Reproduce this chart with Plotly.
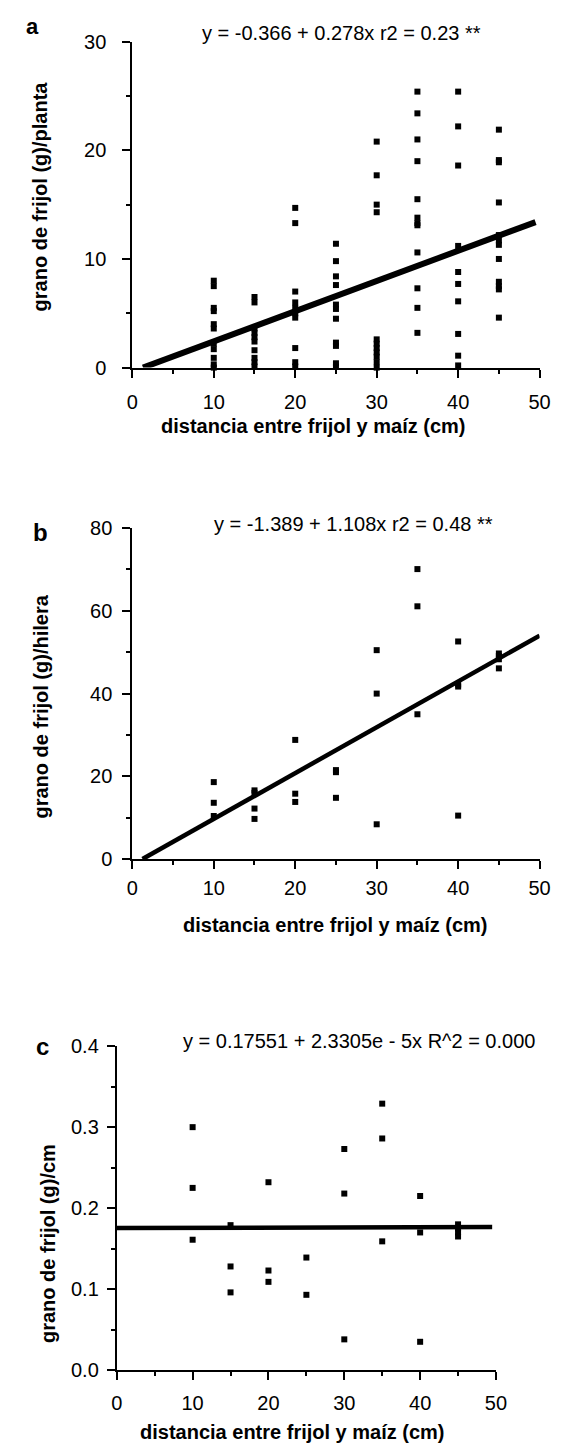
import plotly.graph_objects as go

W, H = 562, 1447

# ---------------- data ----------------
dist_a = [10]*11 + [15]*10 + [20]*10 + [25]*11 + [30]*11 + [35]*12 + [40]*10 + [45]*12
grain_a = [8.0, 7.5, 5.5, 5.2, 4.0, 3.6, 2.2, 1.7, 0.9, 0.3, 0.0,
           6.5, 6.0, 3.6, 3.2, 2.8, 2.4, 1.6, 0.9, 0.5, 0.1,
           14.7, 13.3, 7.0, 6.0, 5.5, 5.0, 4.6, 1.8, 0.5, 0.1,
           11.4, 9.8, 8.4, 7.6, 5.8, 5.4, 4.5, 2.3, 2.0, 0.4, 0.1,
           20.8, 17.7, 15.0, 14.3, 2.6, 2.2, 1.8, 1.4, 1.0, 0.5, 0.0,
           25.4, 23.4, 21.0, 19.0, 15.5, 13.8, 13.3, 13.1, 10.6, 7.3, 5.5, 3.2,
           25.4, 22.2, 18.6, 11.2, 8.8, 7.7, 6.1, 3.1, 1.1, 0.2,
           21.9, 19.1, 18.9, 15.2, 12.2, 11.7, 11.3, 10.0, 7.9, 7.5, 7.2, 4.6]
fit_a = (-0.366, 0.278)

dist_b = [10]*3 + [15]*4 + [20]*3 + [25]*3 + [30]*3 + [35]*3 + [40]*4 + [45]*4
grain_b = [18.6, 13.6, 10.4,
           16.6, 16.0, 12.2, 9.7,
           28.8, 15.8, 13.8,
           21.5, 21.0, 14.8,
           50.5, 40.0, 8.4,
           70.1, 61.1, 35.0,
           52.6, 42.2, 41.7, 10.5,
           49.7, 49.1, 48.3, 46.1]
fit_b = (-1.389, 1.108)

dist_c = [10]*3 + [15]*3 + [20]*3 + [25]*2 + [30]*3 + [35]*3 + [40]*3 + [45]*4
grain_c = [0.300, 0.225, 0.161,
           0.179, 0.128, 0.096,
           0.232, 0.123, 0.109,
           0.139, 0.093,
           0.273, 0.218, 0.038,
           0.329, 0.286, 0.159,
           0.215, 0.170, 0.035,
           0.180, 0.175, 0.170, 0.165]
fit_c = (0.17551, 2.3305e-5)

x_ticks = [0, 10, 20, 30, 40, 50]
y_ticks_a = [0, 10, 20, 30]
y_ticks_b = [0, 20, 40, 60, 80]
y_ticks_c = [0.0, 0.1, 0.2, 0.3, 0.4]
y_ticktext_c = ["0.0", "0.1", "0.2", "0.3", "0.4"]

eq_a = "y = -0.366 + 0.278x r2 = 0.23 **"
eq_b = "y = -1.389 + 1.108x r2 = 0.48 **"
eq_c = "y = 0.17551 + 2.3305e - 5x R^2 = 0.000"
ytitle_a = "grano de frijol (g)/planta"
ytitle_b = "grano de frijol (g)/hilera"
ytitle_c = "grano de frijol (g)/cm"
xtitle = "distancia entre frijol y maíz (cm)"

# ---------------- helpers ----------------
FONT = "Liberation Sans, Arial, Helvetica, sans-serif"

def px(x):
    return x / W

def py(y):
    return 1 - y / H

fig = go.Figure()

panels = [
    # suffix, dist, grain, fit, line x-range, xdomain px, ydomain px, yrange, yticks, yticktext,
    # minor dtick, line width, y label standoff, x label standoff
    ("", dist_a, grain_a, fit_a, (0.366 / 0.278, 49.5), (122, 542), (23, 354), [0, 30],
     y_ticks_a, None, 5, 6, 12, 7),
    ("2", dist_b, grain_b, fit_b, (1.389 / 1.108, 50), (122, 542), (517, 853), [0, 80],
     y_ticks_b, None, 10, 4.5, 6, 2),
    ("3", dist_c, grain_c, fit_c, (0, 49.5), (106, 497), (1043, 1372), [0, 0.4],
     y_ticks_c, y_ticktext_c, 0.05, 4.5, 4, 6),
]

for suf, dx, gy, (b0, b1), (x0, x1), xd, yd, yr, yt, ytt, ymin, lw, ystand, xstand in panels:
    xa = "x" + suf
    ya = "y" + suf
    fig.add_trace(go.Scatter(
        x=dx, y=gy, mode="markers", xaxis=xa, yaxis=ya,
        marker=dict(symbol="square", size=6, color="black"),
        cliponaxis=False, showlegend=False))
    fig.add_trace(go.Scatter(
        x=[x0, x1], y=[b0 + b1 * x0, b0 + b1 * x1], mode="lines",
        xaxis=xa, yaxis=ya, line=dict(color="black", width=lw),
        cliponaxis=False, showlegend=False))
    axis_common = dict(showgrid=False, zeroline=False, showline=True,
                       linecolor="black", linewidth=2, ticks="outside",
                       ticklen=8, tickwidth=2, tickcolor="black",
                       tickfont=dict(family=FONT, size=20, color="black"))
    fig.layout["xaxis" + suf] = dict(
        domain=[px(xd[0]), px(xd[1])], range=[0, 50], anchor=ya,
        tickvals=x_ticks, ticklabelstandoff=xstand,
        minor=dict(dtick=5, tick0=0, ticks="outside", ticklen=4, tickwidth=2, tickcolor="black"),
        **axis_common)
    ydict = dict(
        domain=[py(yd[1]), py(yd[0])], range=yr, anchor=xa,
        tickvals=yt, ticklabelstandoff=ystand,
        minor=dict(dtick=ymin, tick0=0, ticks="outside", ticklen=4, tickwidth=2, tickcolor="black"),
        **axis_common)
    if ytt is not None:
        ydict["ticktext"] = ytt
    fig.layout["yaxis" + suf] = ydict

# ---------------- text ----------------
def add_text(text, x, y, size, bold=False, angle=0):
    fig.add_annotation(
        text=f"<b>{text}</b>" if bold else text,
        x=px(x), y=py(y), xref="paper", yref="paper",
        xanchor="center", yanchor="middle", showarrow=False,
        textangle=angle, font=dict(family=FONT, size=size, color="black"))

add_text(eq_a, 338, 14, 20)
add_text(eq_b, 350, 513, 20)
add_text(eq_c, 356, 1038, 20)

add_text("a", 19, 8, 22, bold=True)
add_text("b", 27, 521, 24, bold=True)
add_text("c", 29, 1043, 24, bold=True)

add_text(ytitle_a, 27, 180, 20, bold=True, angle=-90)
add_text(ytitle_b, 28, 698, 20, bold=True, angle=-90)
add_text(ytitle_c, 35, 1243, 20, bold=True, angle=-90)

add_text(xtitle, 309, 413, 20, bold=True)
add_text(xtitle, 332, 920, 20, bold=True)
add_text(xtitle, 287, 1435, 20, bold=True)

fig.update_layout(
    width=W, height=H, margin=dict(l=0, r=0, t=0, b=0),
    paper_bgcolor="white", plot_bgcolor="white",
    font=dict(family=FONT, color="black"),
)

fig.write_html("out.html")
